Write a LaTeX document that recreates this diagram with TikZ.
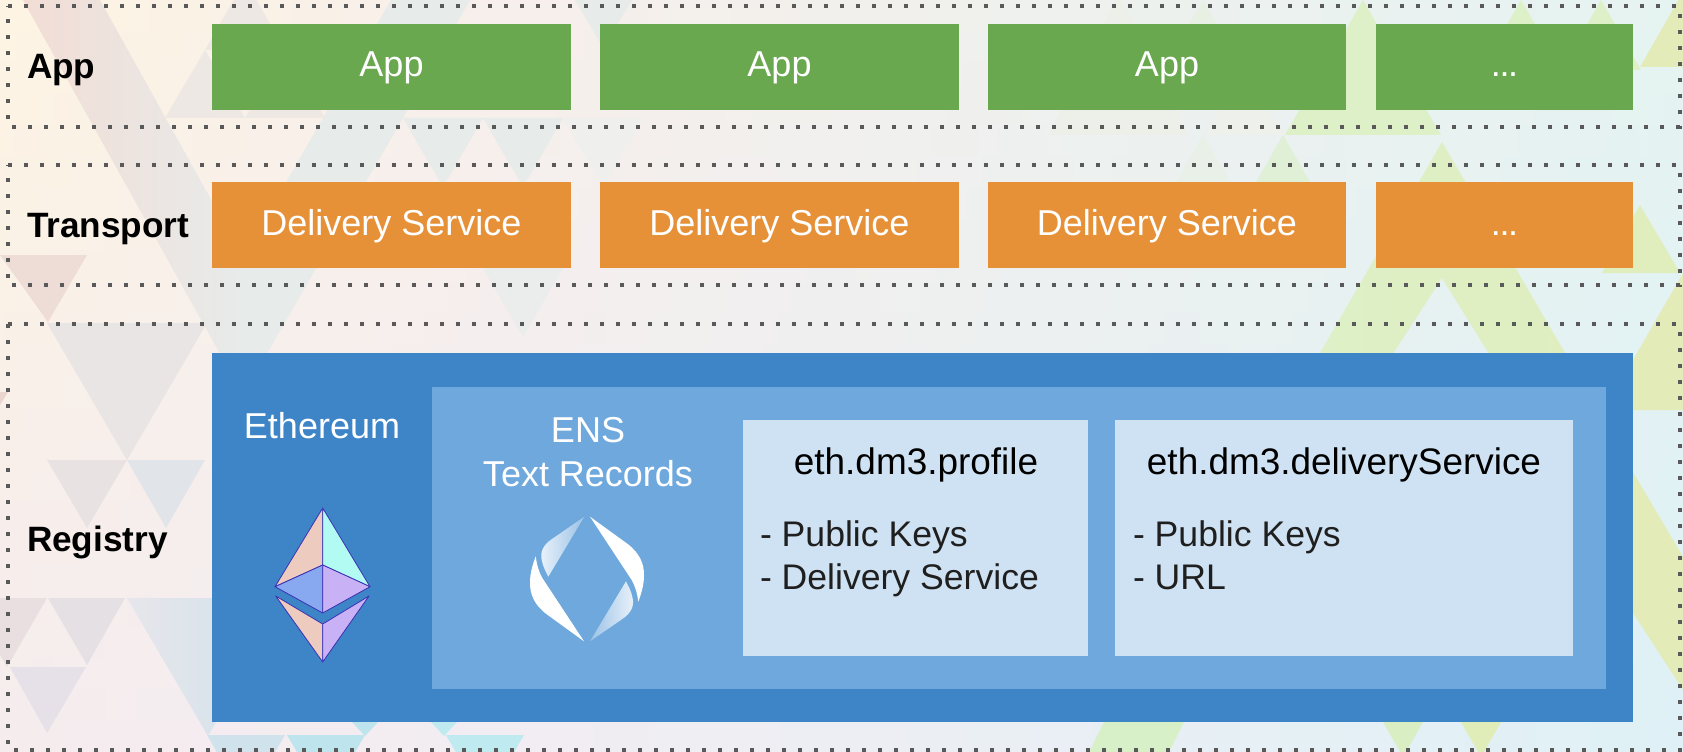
\documentclass[tikz,border=0pt]{standalone}
\usepackage{fontspec}
\setmainfont{Liberation Sans}
\definecolor{appgreen}{HTML}{6AA84F}
\definecolor{dsorange}{HTML}{E69138}
\definecolor{ethblue}{HTML}{3D85C6}
\definecolor{ensblue}{HTML}{6FA8DC}
\definecolor{cardblue}{HTML}{CFE2F3}
\definecolor{dotgrey}{HTML}{595959}
\definecolor{ethline}{HTML}{3B30B4}
\definecolor{ethpeach}{HTML}{EDCBBF}
\definecolor{ethcyan}{HTML}{B2FBF3}
\definecolor{ethperi}{HTML}{88A9F0}
\definecolor{ethlilac}{HTML}{C8B2F5}
\definecolor{tgrey}{HTML}{E7EBEA}
\definecolor{tgreen}{HTML}{DDF0C8}
\definecolor{tyellow}{HTML}{E3EBB9}
\definecolor{lefttop}{HTML}{FDF4E3}
\definecolor{leftbot}{HTML}{F5ECEE}
\definecolor{midtop}{HTML}{F7EFEB}
\definecolor{midbot}{HTML}{F2EDF2}
\definecolor{righttop}{HTML}{E5F3F1}
\definecolor{rightbot}{HTML}{DFF1F6}
\definecolor{pinkstrip}{HTML}{F2DDD5}
\definecolor{tpeach}{HTML}{EDE8E3}
\definecolor{tA}{HTML}{EDDDD6}
\definecolor{tB}{HTML}{E8E5E4}
\definecolor{tC}{HTML}{E8E2E2}
\definecolor{tD}{HTML}{E1E5E9}
\definecolor{tE}{HTML}{E9DEE0}
\definecolor{tF}{HTML}{E5E0E4}
\definecolor{tG}{HTML}{E6E0E8}
\definecolor{tH}{HTML}{E6E6EB}
\definecolor{tI}{HTML}{D0E2EC}
\definecolor{tJ}{HTML}{EBD5CF}
\definecolor{tK}{HTML}{BEE4EE}
\definecolor{tL}{HTML}{BEEAF0}
\definecolor{tM}{HTML}{ECF0E8}
\definecolor{tN}{HTML}{E8F0E4}
\definecolor{tO}{HTML}{E0F0D6}
\definecolor{tP}{HTML}{EEF0EC}
\definecolor{tQ}{HTML}{E9F0E8}
\definecolor{tR}{HTML}{D8F0C8}
\definecolor{tS}{HTML}{D9EEC2}
\definecolor{tT}{HTML}{E0EDB8}
\definecolor{tU}{HTML}{E0EEBE}
\definecolor{tV}{HTML}{EFEFEE}
\definecolor{tW}{HTML}{EAEDEC}
\def\uu{0.75pt}
\newcommand{\tightdots}{.\kern-1pt.\kern-1pt.}
\tikzset{
  x=0.75pt, y=-0.75pt,
  boxnode/.style={inner sep=0pt, outer sep=0pt, text=white, align=center,
    font=\fontsize{27}{32}\selectfont, text height=30*\uu, text depth=10*\uu},
  appbox/.style={boxnode, fill=appgreen, minimum height=86*\uu},
  dsbox/.style={boxnode, fill=dsorange, minimum height=86*\uu},
  fillrect/.style={inner sep=0pt, outer sep=0pt},
  layerlabel/.style={inner sep=0pt, outer sep=0pt, anchor=base west, font=\fontsize{26.4}{32}\bfseries\selectfont},
  whitetext/.style={inner sep=0pt, outer sep=0pt, anchor=base, text=white, font=\fontsize{27}{33}\selectfont},
  cardhead/.style={inner sep=0pt, outer sep=0pt, anchor=base, text=black, font=\fontsize{27.7}{33}\selectfont},
  cardline/.style={inner sep=0pt, outer sep=0pt, anchor=base west, text=black!88, font=\fontsize{26.7}{33}\selectfont},
  dotframe/.style={draw=dotgrey, line width=3pt, dash pattern=on 3pt off 9pt},
  ethface/.style={draw=ethline, line width=0.6pt, line join=round},
}
\begin{document}
\begin{tikzpicture}
\useasboundingbox (0,0) rectangle (1683,752);
\begin{scope}
\clip (0,0) rectangle (1683,752);
% background gradient, in horizontal bands
\foreach \i in {0,...,23}{
  \pgfmathsetmacro{\pa}{100-\i*4.3478}
  \colorlet{cl}{lefttop!\pa!leftbot}
  \colorlet{cm}{midtop!\pa!midbot}
  \colorlet{cr}{righttop!\pa!rightbot}
  \pgfmathsetmacro{\ya}{\i*31.3333}
  \pgfmathsetmacro{\yb}{(\i+1)*31.3333+1}
  \shade[left color=cl, right color=cm] (0,\ya) rectangle (500,\yb);
  \shade[left color=cm, right color=cr] (500,\ya) rectangle (1683,\yb);
}
% large left triangle with its strip
\shade[left color=pinkstrip, right color=tgrey] (23,0) -- (100,0) -- (243,257) -- (243,395) -- cycle;
\fill[tgrey] (243,257) -- (323,118) -- (403,118) -- (243,395) -- cycle;
\fill[tgrey] (391,0) -- (470,0) -- (403,118) -- (323,118) -- cycle;
\fill[tpeach] (245,-20) -- (205,50) -- (285,50) -- cycle;
\fill[tpeach] (205,50) -- (165,118) -- (245,118) -- cycle;
\fill[tpeach] (285,50) -- (245,118) -- (325,118) -- cycle;
\fill[tgrey] (403,118) -- (483,118) -- (443,187) -- cycle;
\fill[tgrey] (483,118) -- (563,118) -- (523,187) -- cycle;
\fill[tV] (563,118) -- (643,118) -- (603,187) -- cycle;
\fill[tgrey] (575,0) -- (632,0) -- (603,48) -- cycle;
\fill[tW] (483,268) -- (563,268) -- (523,337) -- cycle;
% left column
\fill[tA] (0,255) -- (87,255) -- (48,322) -- cycle;
\fill[tB] (47,323) -- (207,323) -- (127,460) -- cycle;
\fill[tC] (47,460) -- (127,460) -- (87,528) -- cycle;
\fill[tD] (127,460) -- (205,460) -- (166,528) -- cycle;
\fill[tE] (-33,598) -- (47,598) -- (7,667) -- cycle;
\fill[tF] (48,598) -- (125,598) -- (87,665) -- cycle;
\fill[tG] (10,667) -- (86,667) -- (47,733) -- cycle;
\shade[left color=tH, right color=tI] (127,598) -- (287,598) -- (208,736) -- cycle;
\fill[tJ] (0,392) -- (8,392) -- (0,405) -- cycle;
% bottom blue
\fill[tI] (207,735) -- (285,735) -- (246,802) -- cycle;
\fill[tK] (287,735) -- (365,735) -- (326,802) -- cycle;
\fill[tL] (446,735) -- (524,735) -- (485,802) -- cycle;
\fill[tK] (352,722) -- (378,722) -- (365,736) -- cycle;
\fill[tL] (431,722) -- (457,722) -- (444,736) -- cycle;
% top right greens
\fill[tM] (1118,-5) -- (1048,135) -- (1188,135) -- cycle;
\fill[tN] (1203,0) -- (1140,110) -- (1266,110) -- cycle;
\fill[tgreen] (1363,0) -- (1285,135) -- (1441,135) -- cycle;
\fill[tP] (1203,135) -- (1285,135) -- (1245,68) -- cycle;
\fill[tQ] (1203,135) -- (1163,205) -- (1243,205) -- cycle;
\fill[tO] (1283,135) -- (1243,205) -- (1323,205) -- cycle;
\fill[tgreen] (1521,0) -- (1481,70) -- (1561,70) -- cycle;
\fill[tgreen] (1601,0) -- (1561,70) -- (1641,70) -- cycle;
\fill[tyellow] (1640,67) -- (1683,67) -- (1683,-8) -- cycle;
% large green
\shade[left color=tgreen, right color=tU] (1442,142) -- (1565,353) -- (1600,420) -- (1530,420) -- (1442,278) -- (1350,420) -- (1285,420) -- (1320,353) -- cycle;
\fill[tU] (1640,205) -- (1602,273) -- (1680,273) -- cycle;
\fill[tyellow] (1683,273) -- (1633,360) -- (1633,410) -- (1683,410) -- cycle;
\fill[tyellow] (1633,472) -- (1683,557) -- (1683,690) -- (1633,613) -- cycle;
% bottom greens
\fill[tR] (1104,722) -- (1184,722) -- (1169,752) -- (1089,752) -- cycle;
\fill[tS] (1383,722) -- (1423,722) -- (1403,757) -- cycle;
\fill[tT] (1461,722) -- (1501,722) -- (1481,757) -- cycle;
\end{scope}

% layers
\draw[dotframe] (8,6.3) -- (1680,6.3) -- (1680,126.7) -- (8,126.7) -- cycle;
\draw[dotframe] (8,165) -- (1680,165) -- (1680,285.3) -- (8,285.3) -- cycle;
\draw[dotframe] (8,323.7) -- (1680,323.7) -- (1680,750) -- (8,750) -- cycle;

\node[layerlabel] (lApp) at (27,79) {App};
\node[layerlabel] (lTransport) at (27,238) {Transport};
\node[layerlabel] (lRegistry) at (27,551) {Registry};

\node[appbox, minimum width=359*\uu] (a1) at (391.5,67) {App};
\node[appbox, minimum width=359*\uu] (a2) at (779.5,67) {App};
\node[appbox, minimum width=358*\uu] (a3) at (1167,67) {App};
\node[appbox, minimum width=257*\uu] (a4) at (1504.5,67) {\tightdots};
\node[dsbox, minimum width=359*\uu] (d1) at (391.5,225) {Delivery Service};
\node[dsbox, minimum width=359*\uu] (d2) at (779.5,225) {Delivery Service};
\node[dsbox, minimum width=358*\uu] (d3) at (1167,225) {Delivery Service};
\node[dsbox, minimum width=257*\uu] (d4) at (1504.5,225) {\tightdots};

\node[fillrect, fill=ethblue, minimum width=1421*\uu, minimum height=369*\uu] (eth) at (922.5,537.5) {};
\node[fillrect, fill=ensblue, minimum width=1174.5*\uu, minimum height=302*\uu] (ens) at (1018.75,538) {};
\node[fillrect, fill=cardblue, minimum width=345*\uu, minimum height=236*\uu] (c1) at (915.5,538) {};
\node[fillrect, fill=cardblue, minimum width=458*\uu, minimum height=236*\uu] (c2) at (1344,538) {};

\node[whitetext] (tEth) at (322,438) {Ethereum};
\node[whitetext] (tEns) at (588,442) {ENS};
\node[whitetext] (tRec) at (588,486) {Text Records};
\node[cardhead] (h1) at (916,474) {eth.dm3.profile};
\node[cardhead] (h2) at (1344,474) {eth.dm3.deliveryService};
\node[cardline] (l11) at (760,546) {- Public Keys};
\node[cardline] (l12) at (760,589) {- Delivery Service};
\node[cardline] (l21) at (1133,546) {- Public Keys};
\node[cardline] (l22) at (1133,589) {- URL};

% Ethereum logo
\filldraw[ethface, fill=ethpeach] (322.7,508) -- (275,586.7) -- (322.7,565) -- cycle;
\filldraw[ethface, fill=ethcyan] (322.7,508) -- (370,586.7) -- (322.7,565) -- cycle;
\filldraw[ethface, fill=ethperi] (322.7,565) -- (275,586.7) -- (322.7,613) -- cycle;
\filldraw[ethface, fill=ethlilac] (322.7,565) -- (370,586.7) -- (322.7,613) -- cycle;
\filldraw[ethface, fill=ethpeach] (275.7,596) -- (322.7,624) -- (322.7,662) -- cycle;
\filldraw[ethface, fill=ethlilac] (369,596) -- (322.7,624) -- (322.7,662) -- cycle;

% ENS logo
\fill[white] (590,516.7) -- (626.7,543.3) .. controls (640,553) and (644,564) .. (644,575) .. controls (644,586) and (641,594) .. (638.3,601.7) .. controls (637,592) and (635,586) .. (631.7,580) -- cycle;
\fill[white] (584,641.3) -- (547.3,614.7) .. controls (534,605) and (530,594) .. (530,583) .. controls (530,572) and (533,564) .. (535.7,556.3) .. controls (537,566) and (539,572) .. (542.3,578) -- cycle;
\shade[left color=white!85!ensblue, right color=ensblue!70!white] (584.3,516.7) -- (552,539) .. controls (543,545) and (540,552) .. (541.7,560) .. controls (543,567) and (546,572) .. (548.3,576.7) -- cycle;
\shade[right color=white!85!ensblue, left color=ensblue!70!white] (590,641.3) -- (622.3,619) .. controls (631.3,613) and (634.3,606) .. (632.6,598) .. controls (631.3,591) and (628.3,586) .. (626,581.3) -- cycle;
\end{tikzpicture}
\end{document}
